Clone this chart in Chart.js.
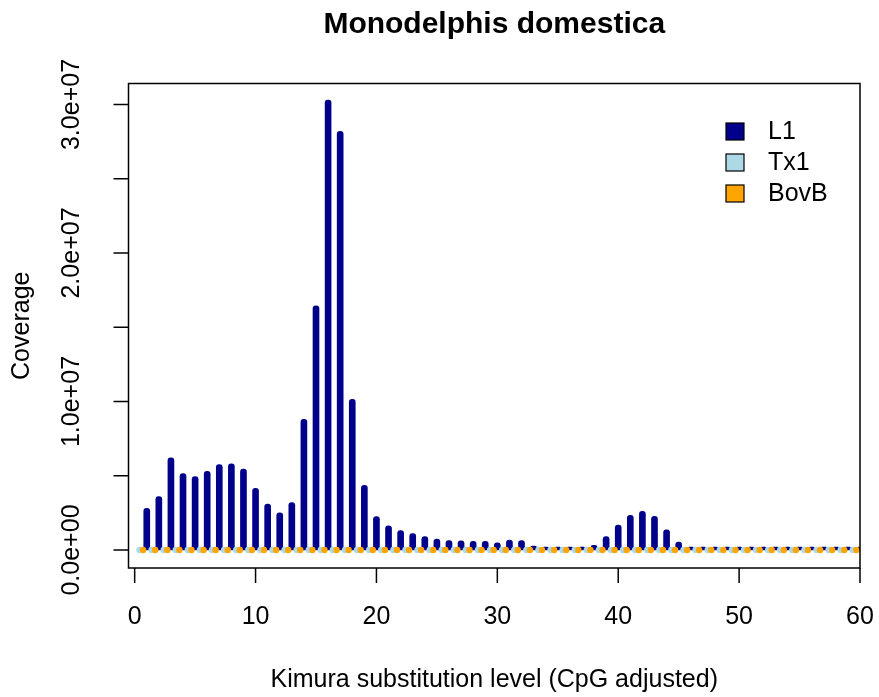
<!DOCTYPE html>
<html>
<head>
<meta charset="utf-8">
<script src="https://cdn.jsdelivr.net/npm/chart.js@4"></script>
<style>
  html, body { margin: 0; padding: 0; background: #fff; }
  #wrap { width: 879px; height: 697px; }
</style>
</head>
<body>
<div id="wrap"><canvas id="myChart" width="879" height="697"></canvas></div>
<script>
const title = "Monodelphis domestica";
const xTitle = "Kimura substitution level (CpG adjusted)";
const yTitle = "Coverage";

// Kimura level (CpG adjusted) for each bin
const levels = [
  1, 2, 3, 4, 5, 6, 7, 8, 9, 10, 11, 12, 13, 14, 15, 16, 17, 18, 19, 20,
  21, 22, 23, 24, 25, 26, 27, 28, 29, 30, 31, 32, 33, 34, 35, 36, 37, 38, 39, 40,
  41, 42, 43, 44, 45, 46, 47, 48, 49, 50, 51, 52, 53, 54, 55, 56, 57, 58, 59, 60,
];

const l1 = [
  2800000, 3600000, 6200000, 5150000, 4950000, 5300000, 5750000, 5800000, 5450000, 4150000,
  3100000, 2500000, 3200000, 8800000, 16450000, 30300000, 28200000, 10150000, 4350000, 2250000,
  1630000, 1300000, 1100000, 910000, 730000, 640000, 620000, 590000, 590000, 480000,
  660000, 640000, 260000, 150000, 130000, 150000, 190000, 320000, 910000, 1670000,
  2340000, 2610000, 2260000, 1360000, 530000, 190000, 50000, 30000, 10000, 10000,
  10000, 10000, 10000, 10000, 10000, 10000, 10000, 10000, 10000, 10000,
];

const tx1 = [
  0, 0, 0, 0, 0, 0, 0, 0, 0, 0, 0, 0, 0, 0, 0, 0, 0, 0, 0, 0,
  0, 0, 0, 0, 0, 0, 0, 0, 0, 0, 0, 0, 0, 0, 0, 0, 0, 0, 0, 0,
  0, 0, 0, 0, 0, 0, 0, 0, 0, 0, 0, 0, 0, 0, 0, 0, 0, 0, 0, 0,
];

const bovB = [
  0, 0, 0, 0, 0, 0, 0, 0, 0, 0, 0, 0, 0, 0, 0, 0, 0, 0, 0, 0,
  0, 0, 0, 0, 0, 0, 0, 0, 0, 0, 0, 0, 0, 0, 0, 0, 0, 0, 0, 0,
  0, 0, 0, 0, 0, 0, 0, 0, 0, 0, 0, 0, 0, 0, 0, 0, 0, 0, 0, 0,
];

const xTicks = [0, 10, 20, 30, 40, 50, 60];
const yTicks = [0, 5000000, 10000000, 15000000, 20000000, 25000000, 30000000];
const yLabels = ["0.0e+00", "", "1.0e+07", "", "2.0e+07", "", "3.0e+07"];

const seriesNames = ["L1", "Tx1", "BovB"];
const seriesColors = ["#00008B", "#ADD8E6", "#FFA500"];
// the three families are drawn side by side within each bin
const shift = [0, -0.6, -0.3];

const FONT = '"Liberation Sans", Arial, Helvetica, sans-serif';

const ctx = document.getElementById("myChart").getContext("2d");

const toPoints = (vals, k) => vals.map((v, i) => ({ x: levels[i] + shift[k], y: v }));

// R style frame, axes, titles and legend
const basePlot = {
  id: "basePlot",
  afterDatasetsDraw(chart) {
    const c = chart.ctx;
    const a = chart.chartArea;
    const xs = chart.scales.x;
    const ys = chart.scales.y;
    c.save();
    c.strokeStyle = "#000";
    c.fillStyle = "#000";
    c.lineWidth = 1.5;
    c.strokeRect(a.left, a.top, a.right - a.left, a.bottom - a.top);

    const tick = 15;
    c.font = "25px " + FONT;
    c.textAlign = "center";
    c.textBaseline = "middle";
    xTicks.forEach((t) => {
      const px = xs.getPixelForValue(t);
      c.beginPath();
      c.moveTo(px, a.bottom);
      c.lineTo(px, a.bottom + tick);
      c.stroke();
      c.fillText(String(t), px, 617);
    });

    yTicks.forEach((t, i) => {
      const py = ys.getPixelForValue(t);
      c.beginPath();
      c.moveTo(a.left, py);
      c.lineTo(a.left - tick, py);
      c.stroke();
      if (yLabels[i]) {
        c.save();
        c.translate(72, py);
        c.rotate(-Math.PI / 2);
        c.fillText(yLabels[i], 0, 0);
        c.restore();
      }
    });

    const midX = (a.left + a.right) / 2;
    const midY = (a.top + a.bottom) / 2;
    c.fillText(xTitle, midX, 680);
    c.save();
    c.translate(22, midY);
    c.rotate(-Math.PI / 2);
    c.fillText(yTitle, 0, 0);
    c.restore();

    c.font = "bold 30px " + FONT;
    c.fillText(title, midX, 25);

    // legend
    c.font = "25px " + FONT;
    c.textAlign = "left";
    c.lineWidth = 1.2;
    seriesNames.forEach((name, i) => {
      const cy = 131.5 + i * 31;
      c.fillStyle = seriesColors[i];
      c.fillRect(726, cy - 8.5, 18, 17);
      c.strokeRect(726, cy - 8.5, 18, 17);
      c.fillStyle = "#000";
      c.fillText(name, 768, cy + 1);
    });
    c.restore();
  },
};

const data = {
  datasets: [
    {
      type: "bar",
      label: seriesNames[0],
      data: toPoints(l1, 0),
      backgroundColor: seriesColors[0],
      barThickness: 6,
      borderRadius: 3,
      minBarLength: 3,
      grouped: false,
      order: 3,
    },
    {
      type: "scatter",
      label: seriesNames[1],
      data: toPoints(tx1, 1),
      backgroundColor: seriesColors[1],
      borderWidth: 0,
      pointRadius: 3.2,
      order: 2,
    },
    {
      type: "scatter",
      label: seriesNames[2],
      data: toPoints(bovB, 2),
      backgroundColor: seriesColors[2],
      borderWidth: 0,
      pointRadius: 3.2,
      order: 1,
    },
  ],
};

const config = {
  type: "bar",
  data: data,
  options: {
    responsive: false,
    animation: false,
    devicePixelRatio: 1,
    layout: {
      padding: { left: 128.5, right: 19, top: 83.5, bottom: 129 },
    },
    plugins: {
      legend: { display: false },
      tooltip: { enabled: false },
    },
    scales: {
      x: {
        type: "linear",
        display: false,
        min: -0.51,
        max: 60,
        offset: false,
      },
      y: {
        display: false,
        min: -1212000,
        max: 31414000,
      },
    },
  },
  plugins: [basePlot],
};

const myChart = new Chart(ctx, config);
</script>
</body>
</html>
